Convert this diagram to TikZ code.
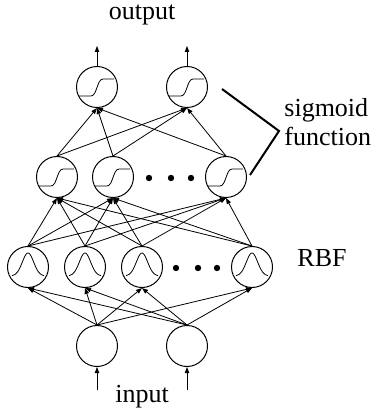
\documentclass[tikz,border=0pt]{standalone}
\usepackage{fontspec}
\setmainfont{Liberation Serif}
\usetikzlibrary{arrows.meta}

\begin{document}
\begin{tikzpicture}[x=0.5pt,y=-0.5pt,
  neuron/.style={draw,circle,minimum size=20.5pt,inner sep=0pt,line width=0.5pt},
  conn/.style={-{Triangle[length=3pt,width=2.2pt]},line width=0.4pt},
  lbl/.style={font=\fontsize{13}{14.5}\selectfont}]
  \useasboundingbox (0,0) rectangle (372,410);

  % output layer
  \node[neuron] (o1) at (97,87) {};
  \node[neuron] (o2) at (187,87) {};
  % hidden sigmoid layer
  \node[neuron] (h1) at (57,177) {};
  \node[neuron] (h2) at (113,177) {};
  \node[neuron] (h3) at (226,177) {};
  % RBF layer
  \node[neuron] (r1) at (28,267) {};
  \node[neuron] (r2) at (85,267) {};
  \node[neuron] (r3) at (142,267) {};
  \node[neuron] (r4) at (252,267) {};
  % input layer
  \node[neuron] (i1) at (97,346) {};
  \node[neuron] (i2) at (187,346) {};

  % sigmoid and gaussian marks
  \foreach \n in {o1,o2,h1,h2,h3}
    \draw[shift={(\n)},line width=0.4pt] (-18,9) -- (-6,9) .. controls (0,9) and (0,-8) .. (6,-8) -- (17,-8);
  \foreach \n in {r1,r2,r3,r4}
    \draw[shift={(\n)},line width=0.4pt,domain=-16:16,samples=40,smooth] plot (\x,{9-23*exp(-(\x/8)^2)});

  \foreach \x in {149,171,191} \fill (\x,178) circle (1.6pt);
  \foreach \x in {176,198,217} \fill (\x,268) circle (1.6pt);

  % connections
  \foreach \a in {h1,h2,h3}
    \foreach \b in {o1,o2}
      \draw[conn] (\a.north) -- (\b.south);
  \foreach \a in {r1,r2,r3,r4}
    \foreach \b in {h1,h2,h3}
      \draw[conn] (\a.north) -- (\b.south);
  \foreach \a in {i1,i2}
    \foreach \b in {r1,r2,r3,r4}
      \draw[conn] (\a.north) -- (\b.south);

  % in and out arrows
  \coordinate (out1) at (97,46);
  \coordinate (out2) at (187,46);
  \coordinate (in1) at (97,390);
  \coordinate (in2) at (187,390);
  \draw[conn] (o1) -- (out1);
  \draw[conn] (o2) -- (out2);
  \draw[conn] (in1) -- (i1);
  \draw[conn] (in2) -- (i2);

  % labels
  \node[lbl] (outlbl) at (142,15) {output};
  \node[lbl] (inlbl) at (142,397) {input};
  \node[lbl] (rbflbl) at (322,258) {RBF};
  \node[lbl,align=left,anchor=west,inner sep=0pt] (siglbl) at (284,122) {sigmoid\\function};

  % bracket
  \coordinate (b1) at (222,89);
  \coordinate (b2) at (279,131);
  \coordinate (b3) at (250,175);
  \draw[line width=1pt] (b1) -- (b2) -- (b3);
\end{tikzpicture}
\end{document}
